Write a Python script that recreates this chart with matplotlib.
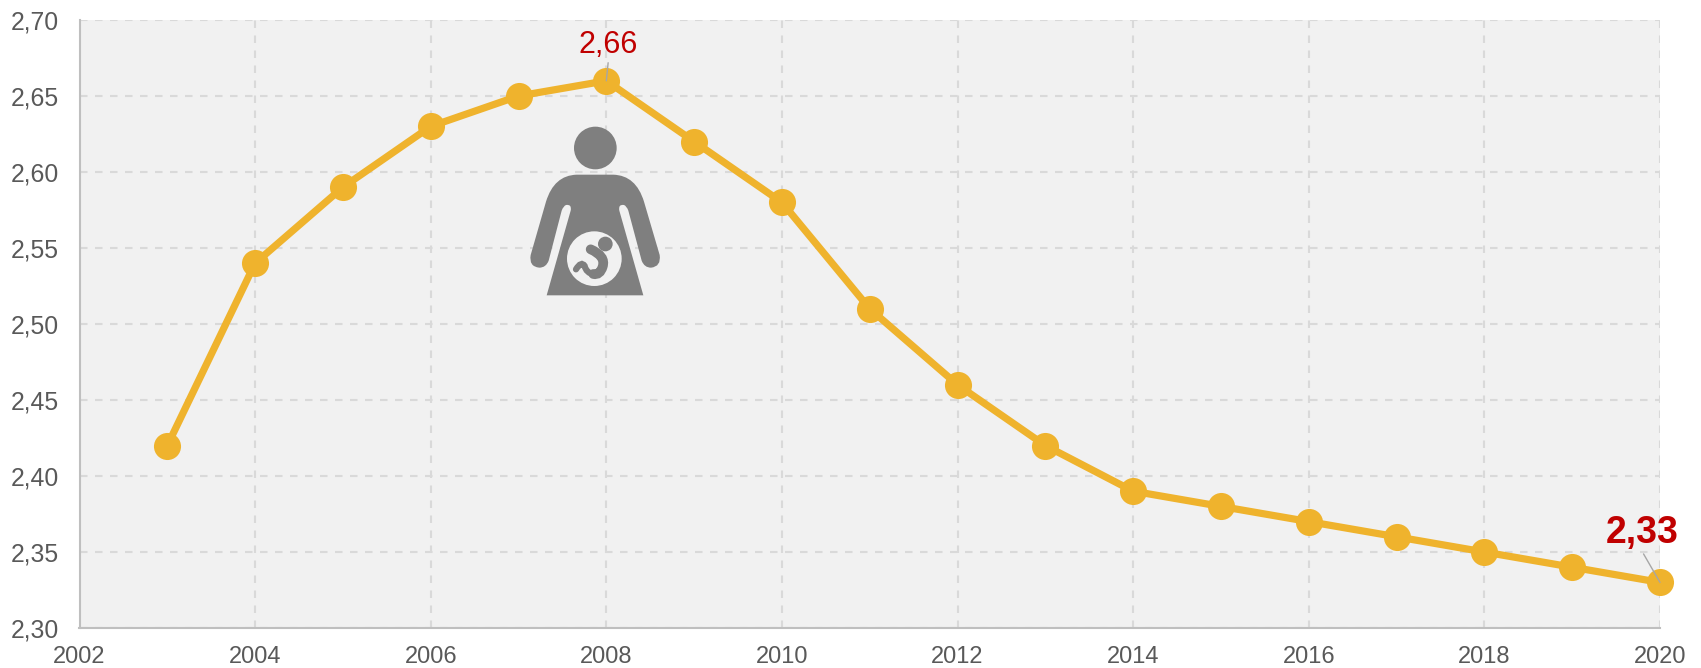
import matplotlib
matplotlib.use("Agg")
import matplotlib.pyplot as plt
from matplotlib.patches import Circle, PathPatch
from matplotlib.path import Path

plt.rcParams['font.family'] = ['Liberation Sans', 'DejaVu Sans']

# --- Data ---
years = [2003, 2004, 2005, 2006, 2007, 2008, 2009, 2010, 2011, 2012,
         2013, 2014, 2015, 2016, 2017, 2018, 2019, 2020]
values = [2.42, 2.54, 2.59, 2.63, 2.65, 2.66, 2.62, 2.58, 2.51, 2.46,
          2.42, 2.39, 2.38, 2.37, 2.36, 2.35, 2.34, 2.33]
x_ticks = [2002, 2004, 2006, 2008, 2010, 2012, 2014, 2016, 2018, 2020]
y_ticks = [2.30, 2.35, 2.40, 2.45, 2.50, 2.55, 2.60, 2.65, 2.70]
y_labels = ["2,30", "2,35", "2,40", "2,45", "2,50", "2,55", "2,60", "2,65", "2,70"]

W, H = 1701, 668
LINE = "#EFB32D"
GRID = "#D9D9D9"
TEXT = "#595959"
RED = "#C00000"
LEADER = "#A6A6A6"
BG = "#F1F1F1"
ICON = "#7F7F7F"


def draw_icon(fig):
    """
    Pregnant woman pictogram, drawn in its own transparent axes
    """
    icon = fig.add_axes([480 / W, 1 - 320 / H, 240 / W, 320 / H], zorder=5)
    icon.set_xlim(0, 720)
    icon.set_ylim(960, 0)
    icon.axis("off")

    icon.add_patch(Circle((346, 444), 64, fc=ICON, ec="none"))

    M, L, C3, Z = Path.MOVETO, Path.LINETO, Path.CURVE3, Path.CLOSEPOLY
    body = [
        (M, (200, 886)), (L, (272, 632)), (C3, (276, 612)), (L, (258, 615)),
        (C3, (250, 618)), (L, (245, 632)), (L, (206, 782)),
        (C3, (198, 803)), (L, (178, 803)), (C3, (146, 800)), (L, (152, 765)),
        (L, (198, 605)), (C3, (222, 526)), (L, (290, 524)),
        (L, (400, 524)), (C3, (468, 526)), (L, (492, 605)),
        (L, (539, 765)), (C3, (544, 800)), (L, (513, 803)),
        (C3, (493, 803)), (L, (485, 782)), (L, (445, 632)),
        (C3, (440, 618)), (L, (432, 615)), (C3, (414, 612)), (L, (418, 632)),
        (L, (490, 886)), (Z, (200, 886)),
    ]
    icon.add_patch(PathPatch(Path([p for _, p in body], [c for c, _ in body]),
                             fc=ICON, ec="none"))

    icon.add_patch(Circle((343, 776), 82, fc=BG, ec="none"))
    icon.add_patch(Circle((376, 732), 22, fc=ICON, ec="none"))

    # baby: trunk and leg
    trunk = Path([(332, 748), (378, 768), (368, 800), (360, 826), (340, 822)],
                 [M, C3, L, C3, L])
    leg = Path([(342, 824), (318, 818), (314, 798), (304, 782), (288, 808)],
               [M, C3, L, C3, L])
    icon.add_patch(PathPatch(trunk, fc="none", ec=ICON, lw=7, capstyle="round"))
    icon.add_patch(PathPatch(leg, fc="none", ec=ICON, lw=4.5, capstyle="round"))


def main():
    fig = plt.figure(figsize=(W / 100, H / 100), dpi=100)
    ax = fig.add_axes([79.5 / W, 40 / H, (1660 - 79.5) / W, 608 / H])
    ax.set_facecolor(BG)

    ax.set_xlim(2002, 2020)
    ax.set_ylim(2.30, 2.70)
    ax.set_xticks(x_ticks)
    ax.set_yticks(y_ticks)
    ax.set_yticklabels(y_labels)
    ax.tick_params(length=0, labelcolor=TEXT)
    ax.tick_params(axis="y", pad=15, labelsize=17.8)
    ax.tick_params(axis="x", pad=13.2, labelsize=17)
    for lab in ax.get_yticklabels():
        lab.set_verticalalignment("center_baseline")

    ax.grid(True, color=GRID, lw=1.5, linestyle=(0, (3.6, 3.6)))
    ax.set_axisbelow(True)

    for side in ("top", "right"):
        ax.spines[side].set_visible(False)
    for side in ("left", "bottom"):
        ax.spines[side].set_color("#BFBFBF")
        ax.spines[side].set_linewidth(1.5)

    ax.plot(years, values, color=LINE, lw=5.2, marker="o", ms=19.5,
            mec="none", clip_on=False, zorder=3)

    # --- Value labels with leader lines ---
    ax.annotate("2,66", xy=(years[5], values[5]), xytext=(1.5, 15),
                textcoords="offset points", ha="center", va="bottom",
                fontsize=22, color=RED, zorder=6,
                arrowprops=dict(arrowstyle="-", color=LEADER, lw=1,
                                shrinkA=0, shrinkB=0, relpos=(0.5, 0)))
    ax.annotate("2,33", xy=(years[-1], values[-1]), xytext=(-13, 22.5),
                textcoords="offset points", ha="center", va="bottom",
                fontsize=27, fontweight="bold", color=RED, zorder=6,
                arrowprops=dict(arrowstyle="-", color=LEADER, lw=1,
                                shrinkA=0, shrinkB=0, relpos=(0.5, 0)))

    draw_icon(fig)

    fig.savefig("out.png", dpi=100)


if __name__ == "__main__":
    main()
